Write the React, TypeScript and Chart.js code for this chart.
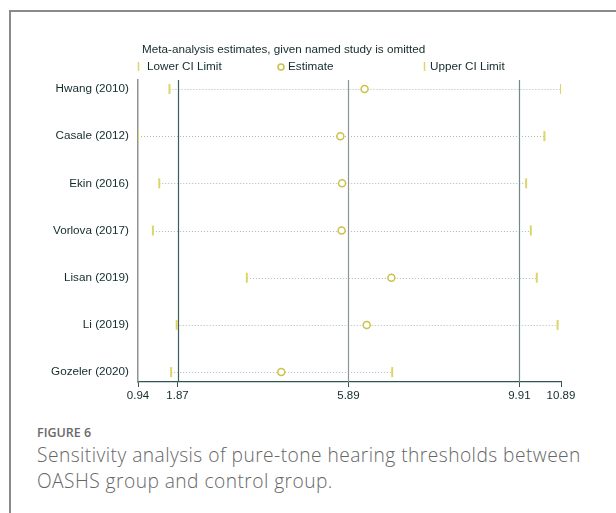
import React, { useEffect, useRef } from "react";
import { Chart, registerables } from "chart.js";

Chart.register(...registerables);

const studies = ["Hwang (2010)", "Casale (2012)", "Ekin (2016)", "Vorlova (2017)", "Lisan (2019)", "Li (2019)", "Gozeler (2020)"];
const lowerCI = [1.68, 0.94, 1.44, 1.29, 3.5, 1.85, 1.72];
const estimate = [6.27, 5.7, 5.74, 5.73, 6.9, 6.32, 4.31];
const upperCI = [10.89, 10.5, 10.07, 10.18, 10.32, 10.81, 6.92];
const xTicks = [0.94, 1.87, 5.89, 9.91, 10.89];
const refLines = [1.87, 5.89, 9.91];
const refColors = ["#3e5c5a", "#8b9595", "#6f8a88"];

const FONT = "'Liberation Sans', Arial, sans-serif";
const TEXT = "#122b2a";
const CI_COLOR = "#ddd56a";
const EST_COLOR = "#c9c247";

const overlayPlugin = {
  id: "overlay",
  beforeDatasetsDraw(chart: any) {
    const { ctx, chartArea, scales } = chart;
    const xs = scales.x;
    const ys = scales.y;
    ctx.save();
    ctx.strokeStyle = "#a9b9bd";
    ctx.lineWidth = 1;
    ctx.setLineDash([1, 2]);
    studies.forEach((_, i) => {
      const y = Math.round(ys.getPixelForValue(i)) + 0.5;
      ctx.beginPath();
      ctx.moveTo(xs.getPixelForValue(lowerCI[i]), y);
      ctx.lineTo(xs.getPixelForValue(upperCI[i]), y);
      ctx.stroke();
    });
    ctx.setLineDash([]);
    refLines.forEach((v, i) => {
      const x = Math.round(xs.getPixelForValue(v)) + 0.5;
      ctx.strokeStyle = refColors[i];
      ctx.lineWidth = 1.2;
      ctx.beginPath();
      ctx.moveTo(x, chartArea.top);
      ctx.lineTo(x, chartArea.bottom);
      ctx.stroke();
    });
    ctx.restore();
  },
  afterDraw(chart: any) {
    const { ctx } = chart;
    ctx.save();
    ctx.font = `11.7px ${FONT}`;
    ctx.textBaseline = "middle";
    ctx.fillStyle = TEXT;
    ctx.fillText("Meta-analysis estimates, given named study is omitted", 142, 50);
    const ly = 67;
    ctx.strokeStyle = CI_COLOR;
    ctx.lineWidth = 1.5;
    [138.5, 424.5].forEach((x) => {
      ctx.beginPath();
      ctx.moveTo(x, ly - 5);
      ctx.lineTo(x, ly + 4);
      ctx.stroke();
    });
    ctx.strokeStyle = EST_COLOR;
    ctx.beginPath();
    ctx.arc(281, ly, 3, 0, Math.PI * 2);
    ctx.stroke();
    ctx.fillStyle = TEXT;
    ctx.fillText("Lower CI Limit", 147, ly);
    ctx.fillText("Estimate", 288, ly);
    ctx.fillText("Upper CI Limit", 430, ly);
    ctx.restore();
  },
};

function ForestChart() {
  const ref = useRef<HTMLCanvasElement | null>(null);
  useEffect(() => {
    if (!ref.current) return;
    const mk = (vals: number[]) => vals.map((v, i) => ({ x: v, y: i }));
    const chart = new Chart(ref.current, {
      type: "scatter",
      data: {
        datasets: [
          {
            label: "Lower CI Limit",
            data: mk(lowerCI),
            pointStyle: "line",
            rotation: 90,
            pointRadius: 5,
            borderWidth: 2,
            borderColor: CI_COLOR,
            backgroundColor: CI_COLOR,
          },
          {
            label: "Upper CI Limit",
            data: mk(upperCI),
            pointStyle: "line",
            rotation: 90,
            pointRadius: 5,
            borderWidth: 2,
            borderColor: CI_COLOR,
            backgroundColor: CI_COLOR,
          },
          {
            label: "Estimate",
            data: mk(estimate),
            pointStyle: "circle",
            pointRadius: 3.5,
            borderWidth: 1.5,
            borderColor: EST_COLOR,
            backgroundColor: "rgba(255,255,255,1)",
          },
        ],
      },
      options: {
        animation: false,
        responsive: false,
        maintainAspectRatio: false,
        events: [],
        layout: { padding: { left: 0, right: 55, top: 80, bottom: 0 } },
        plugins: { legend: { display: false }, tooltip: { enabled: false }, title: { display: false } },
        scales: {
          x: {
            type: "linear",
            min: 0.94,
            max: 10.89,
            afterBuildTicks: (s: any) => {
              s.ticks = xTicks.map((v) => ({ value: v }));
            },
            afterFit: (s: any) => {
              s.height = 28;
            },
            ticks: {
              autoSkip: false,
              maxRotation: 0,
              padding: 2,
              color: TEXT,
              font: { family: FONT, size: 11.5 },
              callback: (v: any) => Number(v).toFixed(2),
            },
            grid: { drawOnChartArea: false, drawTicks: true, tickLength: 5, color: "#2f5552", lineWidth: 1 },
            border: { display: true, color: "#2f5552", width: 1.2 },
          },
          y: {
            type: "linear",
            reverse: true,
            min: -0.19,
            max: 6.21,
            afterBuildTicks: (s: any) => {
              s.ticks = studies.map((_, i) => ({ value: i }));
            },
            afterFit: (s: any) => {
              s.width = 138;
            },
            ticks: {
              autoSkip: false,
              padding: 9,
              color: TEXT,
              font: { family: FONT, size: 11.7 },
              callback: (v: any) => studies[Math.round(Number(v))] ?? "",
            },
            grid: { display: false, drawTicks: false },
            border: { display: true, color: "#8f9494", width: 1.5 },
          },
        },
      },
      plugins: [overlayPlugin],
    } as any);
    return () => chart.destroy();
  }, []);
  return <canvas ref={ref} width={616} height={410} style={{ position: "absolute", left: 0, top: 0, width: 616, height: 410 }} />;
}

export default function App() {
  return (
    <div style={{ position: "absolute", left: 0, top: 0, width: 616, height: 513, overflow: "hidden", background: "#fff" }}>
      <div
        style={{
          position: "absolute",
          left: 9,
          top: 10,
          width: 800,
          height: 800,
          borderLeft: "2px solid #8a8a8a",
          borderTop: "2px solid #8a8a8a",
        }}
      />
      <ForestChart />
      <div
        style={{
          position: "absolute",
          left: 37,
          top: 424,
          fontFamily: "'Open Sans', sans-serif",
          fontSize: 12.5,
          fontWeight: 600,
          lineHeight: "18px",
          color: "#6a6a6a",
        }}
      >
        FIGURE 6
      </div>
      <div
        style={{
          position: "absolute",
          left: 37,
          top: 442,
          width: 575,
          fontFamily: "'Open Sans', sans-serif",
          fontSize: 19.2,
          fontWeight: 300,
          lineHeight: "26px",
          letterSpacing: 0.45,
          color: "#666",
          whiteSpace: "nowrap",
        }}
      >
        Sensitivity analysis of pure-tone hearing thresholds between
        <br />
        OASHS group and control group.
      </div>
    </div>
  );
}
